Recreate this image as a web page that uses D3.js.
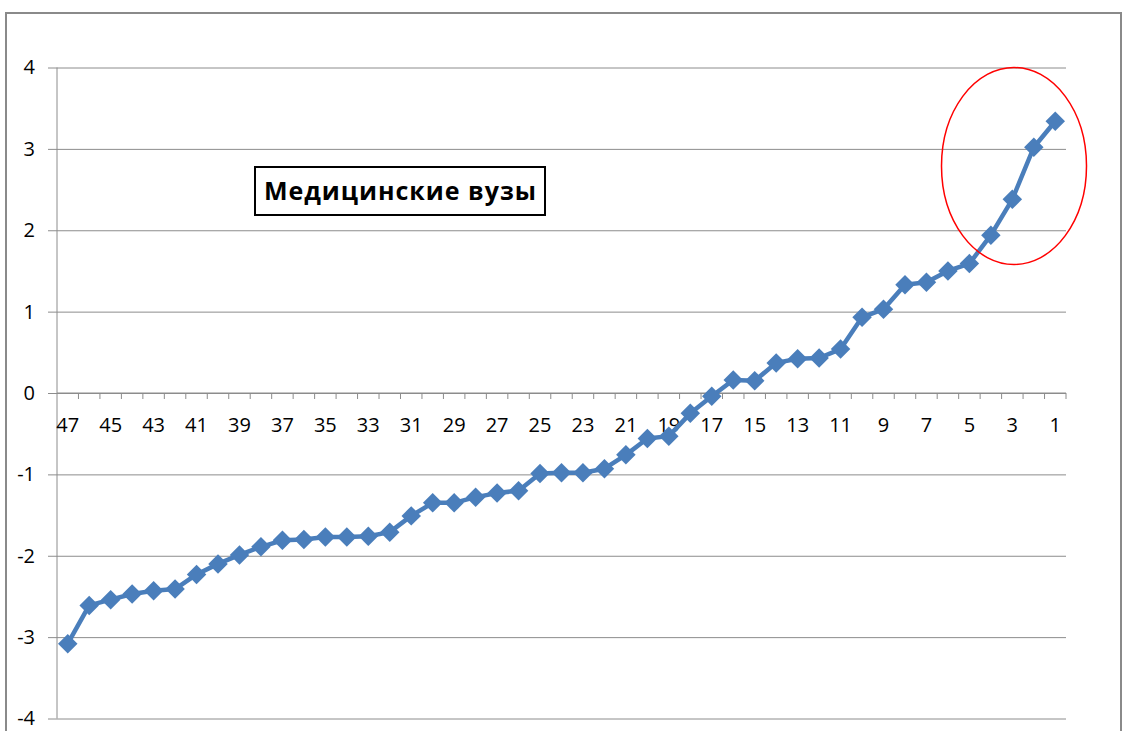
<!DOCTYPE html>
<html>
<head>
<meta charset="utf-8">
<script src="https://cdn.jsdelivr.net/npm/d3@7"></script>
<style>
  body { margin: 0; background: #fff; }
  svg text { font-family: "Open Sans", "DejaVu Sans", sans-serif; }
</style>
</head>
<body>
<svg id="chart" width="1132" height="731"></svg>
<script>
// categories run 47 -> 1 from left to right
var categories = d3.range(47, 0, -1);
var values = [
  -3.08, -2.61, -2.54, -2.47, -2.43, -2.41, -2.23, -2.10, -1.99, -1.89,
  -1.81, -1.80, -1.77, -1.77, -1.76, -1.71, -1.51, -1.35, -1.35, -1.28,
  -1.23, -1.20, -0.99, -0.98, -0.98, -0.93, -0.76, -0.56, -0.53, -0.25,
  -0.04, 0.16, 0.15, 0.37, 0.42, 0.43, 0.54, 0.93, 1.03, 1.33,
  1.36, 1.50, 1.59, 1.94, 2.38, 3.02, 3.34
];
var yTicks = [-4, -3, -2, -1, 0, 1, 2, 3, 4];
var xLabels = categories.filter(d => d % 2 == 1);
var title = "Медицинские вузы";

draw();

function draw() {
  var data = categories.map((c, i) => ({cat: c, val: values[i]}));

  var svg = d3.select("#chart");
  var plotL = 57, plotR = 1066, plotT = 67.5, plotB = 718.5;

  // outer chart border
  svg.append("path")
    .attr("d", "M6,740V13H1121V740")
    .attr("fill", "none")
    .attr("stroke", "#8a8a8a")
    .attr("stroke-width", 2);

  var x = d3.scaleBand().domain(categories).range([plotL, plotR]);
  var y = d3.scaleLinear().domain([-4, 4]).range([plotB, plotT]);

  // gridlines + y axis
  var yAxis = d3.axisLeft(y).tickValues(yTicks).tickSize(-(plotR - plotL)).tickFormat(d3.format("d"));
  var gy = svg.append("g").attr("transform", "translate(" + plotL + ",0)").call(yAxis);
  gy.select(".domain").remove();
  gy.selectAll(".tick line").attr("stroke", "#8c8c8c").attr("x1", -9);
  gy.selectAll(".tick text")
    .attr("font-size", 20).attr("fill", "#000").attr("x", -22)
    .text(d => d < 0 ? "-" + Math.abs(d) : d);

  svg.append("line")
    .attr("x1", plotL).attr("x2", plotL).attr("y1", plotT).attr("y2", plotB)
    .attr("stroke", "#8c8c8c");

  // x axis on zero line, ticks at category boundaries
  var gx = svg.append("g").attr("transform", "translate(0," + y(0) + ")");
  gx.append("line").attr("x1", plotL).attr("x2", plotR).attr("stroke", "#8c8c8c");
  gx.selectAll(".bt").data(categories).enter().append("line")
    .attr("x1", d => x(d) + x.bandwidth())
    .attr("x2", d => x(d) + x.bandwidth())
    .attr("y1", 0).attr("y2", 6)
    .attr("stroke", "#8c8c8c");
  gx.selectAll(".lbl").data(xLabels).enter().append("text")
    .attr("x", d => x(d) + x.bandwidth() / 2)
    .attr("y", 39)
    .attr("text-anchor", "middle")
    .attr("font-size", 20)
    .text(d => d);

  // series
  var cx = d => x(d.cat) + x.bandwidth() / 2;
  svg.append("path").datum(data)
    .attr("d", d3.line().x(cx).y(d => y(d.val)))
    .attr("fill", "none")
    .attr("stroke", "#4a7ebb")
    .attr("stroke-width", 4.5)
    .attr("stroke-linejoin", "round");

  svg.selectAll(".pt").data(data).enter().append("path")
    .attr("d", d3.symbol().type(d3.symbolSquare).size(190))
    .attr("transform", d => "translate(" + cx(d) + "," + y(d.val) + ") rotate(45)")
    .attr("fill", "#4a7ebb");

  // label box
  var lab = svg.append("g");
  lab.append("rect")
    .attr("x", 255).attr("y", 167).attr("width", 290).attr("height", 48)
    .attr("fill", "#fff").attr("stroke", "#000").attr("stroke-width", 2);
  lab.append("text")
    .attr("x", 400).attr("y", 200)
    .attr("text-anchor", "middle")
    .attr("font-size", 25).attr("font-weight", "bold")
    .attr("textLength", 272)
    .text(title);

  // highlight ellipse
  svg.append("ellipse")
    .attr("cx", 1014).attr("cy", 166).attr("rx", 72.5).attr("ry", 98.5)
    .attr("fill", "none").attr("stroke", "#f00").attr("stroke-width", 1.5);
}
</script>
</body>
</html>
